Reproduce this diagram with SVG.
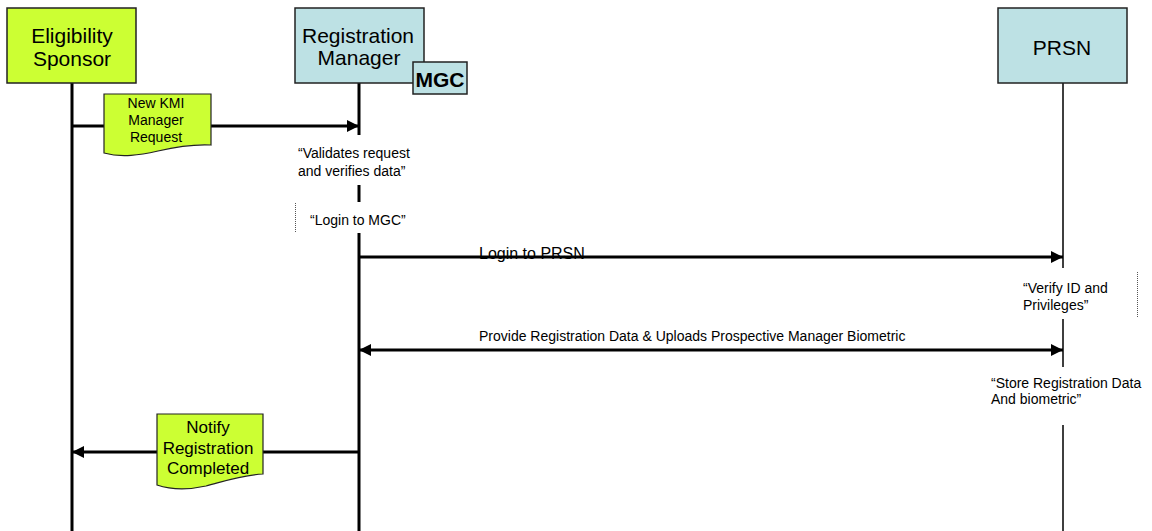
<svg xmlns="http://www.w3.org/2000/svg" width="1152" height="531" viewBox="0 0 1152 531">
  <defs>
    <marker id="head" markerUnits="userSpaceOnUse" markerWidth="14" markerHeight="14" viewBox="0 0 14 14" refX="13" refY="7" orient="auto-start-reverse">
      <path d="M1,1 L13,7 L1,13 Z" fill="#000"/>
    </marker>
    <style>
      text { font-family: "Liberation Sans", Arial, sans-serif; fill: #000; }
      .actor-lime { fill: #CCFF33; stroke: #222; stroke-width: 1.5; }
      .actor-blue { fill: #BDE1E4; stroke: #222; stroke-width: 1.5; }
      .doc { fill: #CCFF33; stroke: #222; stroke-width: 1.2; }
      .life { stroke: #000; stroke-width: 3; fill: none; }
      .life-thin { stroke: #000; stroke-width: 1.5; fill: none; }
      .msg { stroke: #000; stroke-width: 3; fill: none; }
      .note-edge { stroke: #555; stroke-width: 1; stroke-dasharray: 1 1; fill: none; }
      .h { font-size: 21px; text-anchor: middle; }
      .n { font-size: 14px; }
    </style>
  </defs>

  <!-- lifelines -->
  <g id="lifelines">
    <line class="life" x1="72" y1="83" x2="72" y2="531"/>
    <path class="life" d="M359,83 V135 M359,185 V202 M359,233 V531"/>
    <path class="life-thin" d="M1063,83 V268 M1063,319 V367 M1063,425 V531"/>
  </g>

  <!-- this label sits under its arrow, which runs across its baseline -->
  <g id="label-login-prsn">
    <text x="479" y="259" font-size="16">Login to PRSN</text>
  </g>

  <!-- messages -->
  <g id="connectors">
    <line class="msg" x1="72" y1="126" x2="359" y2="126" marker-end="url(#head)"/>
    <line class="msg" x1="359" y1="257" x2="1063" y2="257" marker-end="url(#head)"/>
    <line class="msg" x1="359" y1="350" x2="1063" y2="350" marker-start="url(#head)" marker-end="url(#head)"/>
    <line class="msg" x1="359" y1="452" x2="72" y2="452" marker-end="url(#head)"/>
  </g>

  <!-- actors -->
  <g id="eligibility-sponsor">
    <rect class="actor-lime" x="7" y="8" width="129" height="75"/>
    <text class="h" x="72" y="43">Eligibility</text>
    <text class="h" x="72" y="66">Sponsor</text>
  </g>

  <g id="registration-manager">
    <rect class="actor-blue" x="295" y="8" width="129" height="75"/>
    <text class="h" x="358" y="43">Registration</text>
    <text class="h" x="359" y="65">Manager</text>
  </g>

  <g id="mgc">
    <rect class="actor-blue" x="413" y="62" width="54" height="32"/>
    <text x="440" y="87" font-size="21" font-weight="bold" text-anchor="middle">MGC</text>
  </g>

  <g id="prsn">
    <rect class="actor-blue" x="998" y="8" width="129" height="75"/>
    <text class="h" x="1062" y="55">PRSN</text>
  </g>

  <!-- message documents -->
  <g id="kmi-request">
    <path class="doc" d="M104,94 H211 V145 C192,144 175,147 158,151 C140,155 122,158 104,153 Z"/>
    <text class="n" x="156" y="108" text-anchor="middle">New KMI</text>
    <text class="n" x="156" y="125" text-anchor="middle">Manager</text>
    <text class="n" x="156" y="142" text-anchor="middle">Request</text>
  </g>

  <g id="notify-completed">
    <path class="doc" d="M157,414 H263 V474 C242,475 225,481 206,486 C188,490 172,490 157,485 Z"/>
    <text x="208" y="433" font-size="17" text-anchor="middle">Notify</text>
    <text x="208" y="454" font-size="17" text-anchor="middle">Registration</text>
    <text x="208" y="474" font-size="17" text-anchor="middle">Completed</text>
  </g>

  <!-- message labels -->
  <g id="label-provide">
    <text x="479" y="341" font-size="14">Provide Registration Data &amp; Uploads Prospective Manager Biometric</text>
  </g>

  <!-- activity notes -->
  <g id="note-validates">
    <text class="n" x="298" y="158">“Validates request</text>
    <text class="n" x="298" y="176">and verifies data”</text>
  </g>

  <g id="note-login-mgc">
    <line class="note-edge" x1="295.5" y1="203" x2="295.5" y2="233"/>
    <text class="n" x="310" y="225">“Login to MGC”</text>
  </g>

  <g id="note-verify">
    <line class="note-edge" x1="1137.5" y1="272" x2="1137.5" y2="318"/>
    <text class="n" x="1023" y="293">“Verify ID and</text>
    <text class="n" x="1023" y="310">Privileges”</text>
  </g>

  <g id="note-store">
    <text class="n" x="991" y="388">“Store Registration Data</text>
    <text class="n" x="991" y="404">And biometric”</text>
  </g>
</svg>
